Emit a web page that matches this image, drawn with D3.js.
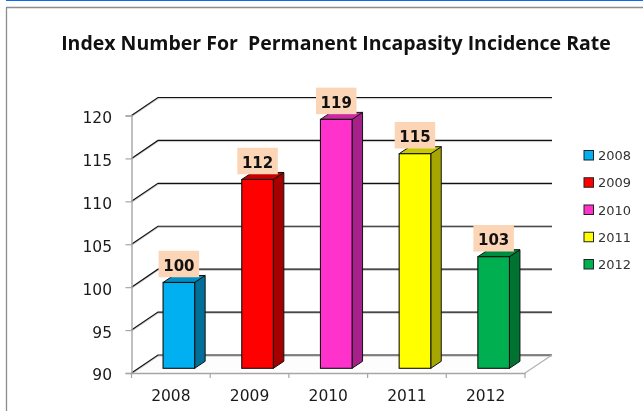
<!DOCTYPE html>
<html><head><meta charset="utf-8">
<script src="https://cdn.jsdelivr.net/npm/d3@7/dist/d3.min.js"></script>
<style>html,body{margin:0;padding:0;background:#fff;overflow:hidden}svg{display:block;filter:blur(0.35px)}</style>
</head><body><svg id="c" width="643" height="411"></svg>
<script>
const years=["2008","2009","2010","2011","2012"];
const values=[100,112,119,115,103];
const frontColors=["#00b0f0","#ff0000","#ff33cc","#ffff00","#00b050"];
const sideColors=["#00709a","#a50000","#a6218a","#a6a600","#007232"];
const topColors=["#008ec2","#c80000","#cc29a3","#c8c800","#008c40"];
const yTicks=[90,95,100,105,110,115,120];
const titleText="Index Number For\u00a0 Permanent Incapasity Incidence Rate";

const W=643,H=411;
const svg=d3.select("#c");
const y=d3.scaleLinear().domain([90,120]).range([373,115.5]);
const x=d3.scaleBand().domain(years).range([131.5,525]);
const depthX=26.5,depthY=18,barW=31.6,barShift=8,barLift=4.7,bdx=10.5,bdy=7;
const font="'DejaVu Sans',Verdana,sans-serif";

// page frame
svg.append("rect").attr("width",W).attr("height",H).attr("fill","#fff");
svg.append("path").attr("d",`M6.5,${H}V7.5H${W}`).attr("fill","none").attr("stroke","#8c8c8c").attr("stroke-width",1.3);
svg.append("rect").attr("x",6).attr("y",0).attr("width",W-6).attr("height",1).attr("fill","#0a6cf0");

// title
svg.append("text").attr("x",336).attr("y",50).attr("text-anchor","middle")
  .attr("font-family","'Open Sans',sans-serif").attr("font-weight",700).attr("font-size",19.5)
  .attr("fill","#111").text(titleText);

const root=svg.append("g");

// floor
const floorY=y(90),backRight=x.range()[1]+depthX+0.5;
root.append("path").attr("d",`M${x.range()[0]},${floorY}L${x.range()[0]+depthX},${floorY-depthY}H${backRight}L${x.range()[1]},${floorY}Z`)
  .attr("fill","#fdfdfd");

// gridlines on side wall and back wall
const grid=root.append("g").selectAll("g").data(yTicks).join("g");
const gridPath=v=>`M${x.range()[0]},${y(v)}L${x.range()[0]+depthX},${y(v)-depthY}H${backRight}`;
grid.append("path").attr("d",gridPath).attr("transform","translate(0,1.2)").attr("fill","none").attr("stroke","#c8c8c8").attr("stroke-width",1);
grid.append("path").attr("d",gridPath).attr("fill","none").attr("stroke","#111").attr("stroke-width",1.2);

// floor front edge
root.append("path").attr("d",`M${x.range()[1]},${floorY}L${backRight},${floorY-depthY}`).attr("fill","none").attr("stroke","#b0b0b0").attr("stroke-width",1.2);

// axes
const yAxis=root.append("g").attr("transform",`translate(${x.range()[0]},0)`)
  .call(d3.axisLeft(y).tickValues(yTicks).tickSize(6).tickPadding(13.5));
const xAxis=root.append("g").attr("transform",`translate(0,${floorY})`)
  .call(d3.axisBottom(x).tickSize(0).tickPadding(16.5));
const xEdges=[...years.map(d=>x(d)),x.range()[1]];
xAxis.selectAll(".edge").data(xEdges).join("line").attr("class","edge")
  .attr("x1",d=>d).attr("x2",d=>d).attr("y1",0).attr("y2",5).attr("stroke","#a6a6a6").attr("stroke-width",1.2);
[yAxis,xAxis].forEach(a=>{
  a.selectAll(".domain").attr("stroke","#a6a6a6").attr("stroke-width",1.4);
  a.selectAll(".tick line").attr("stroke","#a6a6a6").attr("stroke-width",1.2);
  a.selectAll("text").attr("font-family",font).attr("font-size",15.5).attr("fill","#1a1a1a");
});
yAxis.selectAll("text").attr("dy","0.32em").attr("transform","translate(0,2)");

// bars
const bars=root.append("g").selectAll("g").data(years).join("g");
const L=d=>x(d)+x.bandwidth()/2+barShift-barW/2;
const T=(d,i)=>y(values[i])-barLift;
const B=floorY-barLift;
bars.append("path").attr("d",(d,i)=>`M${L(d)+barW},${T(d,i)}l${bdx},${-bdy}V${B-bdy}l${-bdx},${bdy}Z`)
  .attr("fill",(d,i)=>sideColors[i]).attr("stroke","#111").attr("stroke-width",1);
bars.append("path").attr("d",(d,i)=>`M${L(d)},${T(d,i)}l${bdx},${-bdy}h${barW}l${-bdx},${bdy}Z`)
  .attr("fill",(d,i)=>topColors[i]).attr("stroke","#111").attr("stroke-width",1);
bars.append("rect").attr("x",L).attr("y",T).attr("width",barW).attr("height",(d,i)=>B-T(d,i))
  .attr("fill",(d,i)=>frontColors[i]).attr("stroke","#111").attr("stroke-width",1.1);

// data labels
const labelW=40.5,labelH=26.5;
const labels=root.append("g").selectAll("g").data(years).join("g")
  .attr("transform",(d,i)=>`translate(${L(d)+barW/2},${T(d,i)-5.2})`);
labels.append("rect").attr("x",-labelW/2).attr("y",-labelH).attr("width",labelW).attr("height",labelH).attr("fill","#fbd5b5");
labels.append("text").attr("y",-6.5).attr("text-anchor","middle").attr("font-family",font)
  .attr("font-weight",700).attr("font-size",15).attr("fill","#111").text((d,i)=>values[i]);

// legend
const legY=d3.scalePoint().domain(years).range([155,264]);
const leg=svg.append("g").selectAll("g").data(years).join("g").attr("transform",d=>`translate(584,${legY(d)})`);
leg.append("rect").attr("x",0).attr("y",-4.5).attr("width",9.5).attr("height",9.5)
  .attr("fill",(d,i)=>frontColors[i]).attr("stroke","#222").attr("stroke-width",1);
leg.append("text").attr("x",14).attr("y",5).attr("font-family",font).attr("font-size",13).attr("fill","#333").text(d=>d);
</script></body></html>
